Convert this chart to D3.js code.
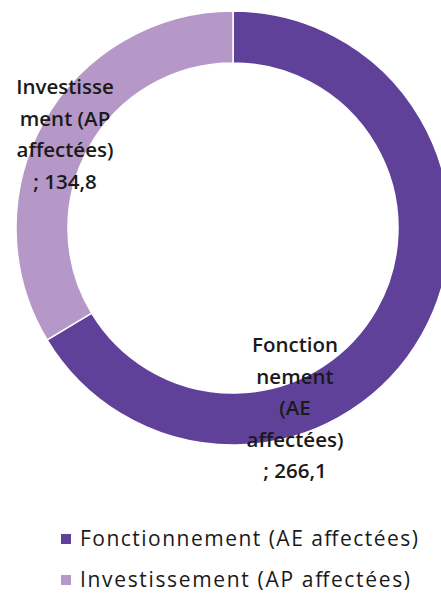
<!DOCTYPE html>
<html><head><meta charset="utf-8">
<script src="https://cdn.jsdelivr.net/npm/d3@7"></script>
<style>body{margin:0;background:#fff}svg{display:block}text{font-family:"Open Sans",Lato,sans-serif}</style>
</head><body>
<script>
const categories = ["Fonctionnement (AE affectées)", "Investissement (AP affectées)"];
const values = [266.1, 134.8];
const valueLabels = ["266,1", "134,8"];
const colors = ["#60419a", "#b598c8"];
const sliceLabelLines = [
  ["Fonction", "nement", "(AE", "affectées)", ";  266,1"],
  ["Investisse", "ment (AP", "affectées)", "; 134,8"]
];

const W = 441, H = 598;
const svg = d3.select("body").append("svg").attr("width", W).attr("height", H);
const cx = 233, cy = 228, rOuter = 217, rInner = 165;

const pie = d3.pie().sort(null).value(d => d)(values);
const arc = d3.arc().innerRadius(rInner).outerRadius(rOuter);
const g = svg.append("g").attr("transform", `translate(${cx},${cy})`);
g.selectAll("path").data(pie).join("path")
  .attr("d", arc).attr("fill", (d,i) => colors[i])
  .attr("stroke", "#fff").attr("stroke-width", 1.5);

// data labels
const labelPos = [[295, 345], [65, 87]];
sliceLabelLines.forEach((lines, i) => {
  const t = svg.append("text").attr("text-anchor", "middle")
    .attr("font-size", 20.5).attr("font-weight", 600).attr("fill", "#1a1a1a");
  lines.forEach((ln, j) => {
    t.append("tspan").attr("x", labelPos[i][0]).attr("y", labelPos[i][1] + j * 31.5)
      .attr("dy", "0.35em").text(ln);
  });
});

// legend
const legendWidths = [338, 330];
const leg = svg.append("g");
categories.forEach((c, i) => {
  const y = 539 + i * 41;
  leg.append("rect").attr("x", 61).attr("y", y - 5).attr("width", 10).attr("height", 10).attr("fill", colors[i]);
  leg.append("text").attr("x", 80).attr("y", y).attr("dy", "0.35em")
    .attr("font-size", 21).attr("fill", "#1a1a1a")
    .attr("textLength", legendWidths[i]).attr("lengthAdjust", "spacing").text(c);
});
</script>
</body></html>
